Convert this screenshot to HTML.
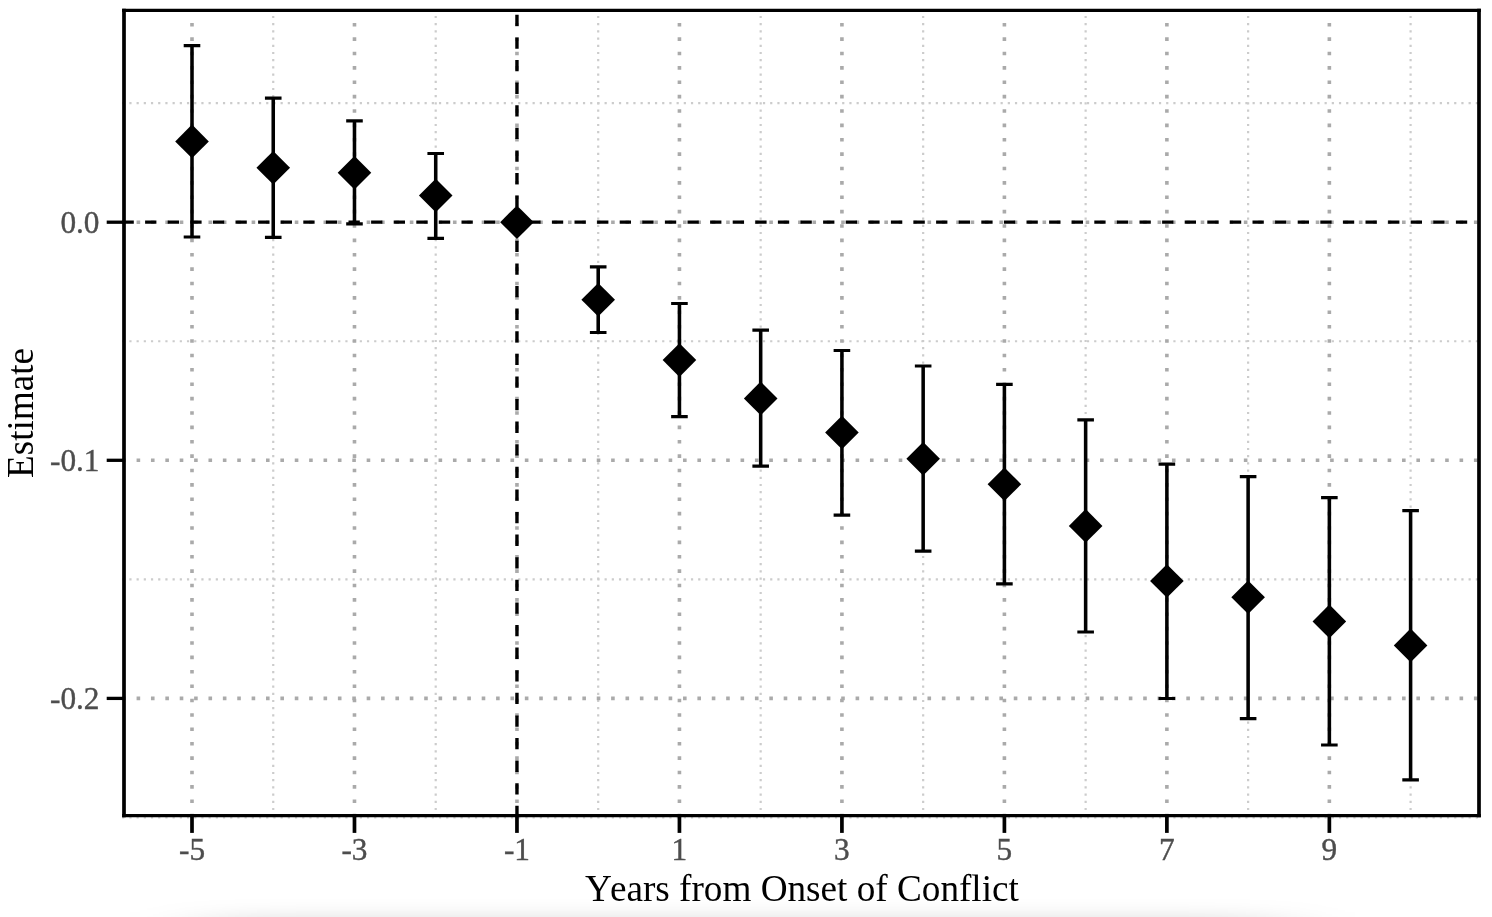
<!DOCTYPE html>
<html><head><meta charset="utf-8"><style>
html,body{margin:0;padding:0;background:#fff;}
body{width:1492px;height:917px;overflow:hidden;}
svg{display:block;font-family:"Liberation Serif",serif;}
text{opacity:0.999;}
</style></head><body>
<svg width="1492" height="917" viewBox="0 0 1492 917">
<rect width="1492" height="917" fill="#fff"/>
<filter id="bl" x="-30%" y="-300%" width="160%" height="700%"><feGaussianBlur stdDeviation="45 10"/></filter>
<rect x="205" y="919" width="1075" height="30" fill="#000" fill-opacity="0.15" filter="url(#bl)"/>
<g>
<line x1="273.24" y1="817.30" x2="273.24" y2="10.3" stroke="#cccccc" stroke-width="2.2" stroke-dasharray="2.2 5.000"/>
<line x1="435.72" y1="817.30" x2="435.72" y2="10.3" stroke="#cccccc" stroke-width="2.2" stroke-dasharray="2.2 5.000"/>
<line x1="598.20" y1="817.30" x2="598.20" y2="10.3" stroke="#cccccc" stroke-width="2.2" stroke-dasharray="2.2 5.000"/>
<line x1="760.68" y1="817.30" x2="760.68" y2="10.3" stroke="#cccccc" stroke-width="2.2" stroke-dasharray="2.2 5.000"/>
<line x1="923.16" y1="817.30" x2="923.16" y2="10.3" stroke="#cccccc" stroke-width="2.2" stroke-dasharray="2.2 5.000"/>
<line x1="1085.64" y1="817.30" x2="1085.64" y2="10.3" stroke="#cccccc" stroke-width="2.2" stroke-dasharray="2.2 5.000"/>
<line x1="1248.12" y1="817.30" x2="1248.12" y2="10.3" stroke="#cccccc" stroke-width="2.2" stroke-dasharray="2.2 5.000"/>
<line x1="1410.60" y1="817.30" x2="1410.60" y2="10.3" stroke="#cccccc" stroke-width="2.2" stroke-dasharray="2.2 5.000"/>
<line x1="122.15" y1="103.15" x2="1479.0" y2="103.15" stroke="#cccccc" stroke-width="2.2" stroke-dasharray="2.2 5.000"/>
<line x1="122.15" y1="341.25" x2="1479.0" y2="341.25" stroke="#cccccc" stroke-width="2.2" stroke-dasharray="2.2 5.000"/>
<line x1="122.15" y1="579.35" x2="1479.0" y2="579.35" stroke="#cccccc" stroke-width="2.2" stroke-dasharray="2.2 5.000"/>
<line x1="122.15" y1="817.45" x2="1479.0" y2="817.45" stroke="#cccccc" stroke-width="2.2" stroke-dasharray="2.2 5.000"/>
<line x1="192.00" y1="817.40" x2="192.00" y2="10.3" stroke="#aaaaaa" stroke-width="3.6" stroke-dasharray="3.6 10.780"/>
<line x1="354.48" y1="817.40" x2="354.48" y2="10.3" stroke="#aaaaaa" stroke-width="3.6" stroke-dasharray="3.6 10.780"/>
<line x1="516.96" y1="817.40" x2="516.96" y2="10.3" stroke="#aaaaaa" stroke-width="3.6" stroke-dasharray="3.6 10.780"/>
<line x1="679.44" y1="817.40" x2="679.44" y2="10.3" stroke="#aaaaaa" stroke-width="3.6" stroke-dasharray="3.6 10.780"/>
<line x1="841.92" y1="817.40" x2="841.92" y2="10.3" stroke="#aaaaaa" stroke-width="3.6" stroke-dasharray="3.6 10.780"/>
<line x1="1004.40" y1="817.40" x2="1004.40" y2="10.3" stroke="#aaaaaa" stroke-width="3.6" stroke-dasharray="3.6 10.780"/>
<line x1="1166.88" y1="817.40" x2="1166.88" y2="10.3" stroke="#aaaaaa" stroke-width="3.6" stroke-dasharray="3.6 10.780"/>
<line x1="1329.36" y1="817.40" x2="1329.36" y2="10.3" stroke="#aaaaaa" stroke-width="3.6" stroke-dasharray="3.6 10.780"/>
<line x1="122.20" y1="222.20" x2="1479.0" y2="222.20" stroke="#aaaaaa" stroke-width="3.6" stroke-dasharray="3.6 10.780"/>
<line x1="122.20" y1="460.30" x2="1479.0" y2="460.30" stroke="#aaaaaa" stroke-width="3.6" stroke-dasharray="3.6 10.780"/>
<line x1="122.20" y1="698.40" x2="1479.0" y2="698.40" stroke="#aaaaaa" stroke-width="3.6" stroke-dasharray="3.6 10.780"/>
<line x1="122.5" y1="222.2" x2="1479.0" y2="222.2" stroke="#000" stroke-width="3.2" stroke-dasharray="11.3 11.3"/>
<line x1="516.96" y1="817.1" x2="516.96" y2="10.3" stroke="#000" stroke-width="3.4" stroke-dasharray="11.3 11.3"/>
<path d="M192.00 45.60V237.00" stroke="#000" stroke-width="3.55" fill="none"/>
<path d="M183.70 45.60H200.30M183.70 237.00H200.30" stroke="#000" stroke-width="3.2" fill="none"/>
<path d="M273.24 98.10V237.30" stroke="#000" stroke-width="3.55" fill="none"/>
<path d="M264.94 98.10H281.54M264.94 237.30H281.54" stroke="#000" stroke-width="3.2" fill="none"/>
<path d="M354.48 120.90V223.80" stroke="#000" stroke-width="3.55" fill="none"/>
<path d="M346.18 120.90H362.78M346.18 223.80H362.78" stroke="#000" stroke-width="3.2" fill="none"/>
<path d="M435.72 153.50V238.40" stroke="#000" stroke-width="3.55" fill="none"/>
<path d="M427.42 153.50H444.02M427.42 238.40H444.02" stroke="#000" stroke-width="3.2" fill="none"/>
<path d="M598.20 266.90V332.50" stroke="#000" stroke-width="3.55" fill="none"/>
<path d="M589.90 266.90H606.50M589.90 332.50H606.50" stroke="#000" stroke-width="3.2" fill="none"/>
<path d="M679.44 303.50V416.60" stroke="#000" stroke-width="3.55" fill="none"/>
<path d="M671.14 303.50H687.74M671.14 416.60H687.74" stroke="#000" stroke-width="3.2" fill="none"/>
<path d="M760.68 330.10V466.20" stroke="#000" stroke-width="3.55" fill="none"/>
<path d="M752.38 330.10H768.98M752.38 466.20H768.98" stroke="#000" stroke-width="3.2" fill="none"/>
<path d="M841.92 350.50V515.20" stroke="#000" stroke-width="3.55" fill="none"/>
<path d="M833.62 350.50H850.22M833.62 515.20H850.22" stroke="#000" stroke-width="3.2" fill="none"/>
<path d="M923.16 366.00V551.10" stroke="#000" stroke-width="3.55" fill="none"/>
<path d="M914.86 366.00H931.46M914.86 551.10H931.46" stroke="#000" stroke-width="3.2" fill="none"/>
<path d="M1004.40 384.30V583.90" stroke="#000" stroke-width="3.55" fill="none"/>
<path d="M996.10 384.30H1012.70M996.10 583.90H1012.70" stroke="#000" stroke-width="3.2" fill="none"/>
<path d="M1085.64 419.80V632.00" stroke="#000" stroke-width="3.55" fill="none"/>
<path d="M1077.34 419.80H1093.94M1077.34 632.00H1093.94" stroke="#000" stroke-width="3.2" fill="none"/>
<path d="M1166.88 464.10V698.50" stroke="#000" stroke-width="3.55" fill="none"/>
<path d="M1158.58 464.10H1175.18M1158.58 698.50H1175.18" stroke="#000" stroke-width="3.2" fill="none"/>
<path d="M1248.12 476.70V718.70" stroke="#000" stroke-width="3.55" fill="none"/>
<path d="M1239.82 476.70H1256.42M1239.82 718.70H1256.42" stroke="#000" stroke-width="3.2" fill="none"/>
<path d="M1329.36 497.70V745.00" stroke="#000" stroke-width="3.55" fill="none"/>
<path d="M1321.06 497.70H1337.66M1321.06 745.00H1337.66" stroke="#000" stroke-width="3.2" fill="none"/>
<path d="M1410.60 510.70V779.80" stroke="#000" stroke-width="3.55" fill="none"/>
<path d="M1402.30 510.70H1418.90M1402.30 779.80H1418.90" stroke="#000" stroke-width="3.2" fill="none"/>
<path d="M175.20 141.40L192.00 124.60L208.80 141.40L192.00 158.20Z" fill="#000"/>
<path d="M256.44 167.70L273.24 150.90L290.04 167.70L273.24 184.50Z" fill="#000"/>
<path d="M337.68 172.70L354.48 155.90L371.28 172.70L354.48 189.50Z" fill="#000"/>
<path d="M418.92 195.50L435.72 178.70L452.52 195.50L435.72 212.30Z" fill="#000"/>
<path d="M500.16 222.20L516.96 205.40L533.76 222.20L516.96 239.00Z" fill="#000"/>
<path d="M581.40 299.70L598.20 282.90L615.00 299.70L598.20 316.50Z" fill="#000"/>
<path d="M662.64 360.10L679.44 343.30L696.24 360.10L679.44 376.90Z" fill="#000"/>
<path d="M743.88 398.40L760.68 381.60L777.48 398.40L760.68 415.20Z" fill="#000"/>
<path d="M825.12 432.50L841.92 415.70L858.72 432.50L841.92 449.30Z" fill="#000"/>
<path d="M906.36 458.70L923.16 441.90L939.96 458.70L923.16 475.50Z" fill="#000"/>
<path d="M987.60 484.30L1004.40 467.50L1021.20 484.30L1004.40 501.10Z" fill="#000"/>
<path d="M1068.84 525.90L1085.64 509.10L1102.44 525.90L1085.64 542.70Z" fill="#000"/>
<path d="M1150.08 581.00L1166.88 564.20L1183.68 581.00L1166.88 597.80Z" fill="#000"/>
<path d="M1231.32 597.30L1248.12 580.50L1264.92 597.30L1248.12 614.10Z" fill="#000"/>
<path d="M1312.56 621.40L1329.36 604.60L1346.16 621.40L1329.36 638.20Z" fill="#000"/>
<path d="M1393.80 645.40L1410.60 628.60L1427.40 645.40L1410.60 662.20Z" fill="#000"/>
</g>
<path d="M122.15 10.3H1480.85M122.15 815.6H1480.85" stroke="#000" stroke-width="3.2" fill="none"/>
<path d="M124.0 8.700000000000001V817.2M1479.0 8.700000000000001V817.2" stroke="#000" stroke-width="3.7" fill="none"/>
<line x1="192.00" y1="815.6" x2="192.00" y2="832.90" stroke="#000" stroke-width="3.7"/>
<line x1="354.48" y1="815.6" x2="354.48" y2="832.90" stroke="#000" stroke-width="3.7"/>
<line x1="516.96" y1="815.6" x2="516.96" y2="832.90" stroke="#000" stroke-width="3.7"/>
<line x1="679.44" y1="815.6" x2="679.44" y2="832.90" stroke="#000" stroke-width="3.7"/>
<line x1="841.92" y1="815.6" x2="841.92" y2="832.90" stroke="#000" stroke-width="3.7"/>
<line x1="1004.40" y1="815.6" x2="1004.40" y2="832.90" stroke="#000" stroke-width="3.7"/>
<line x1="1166.88" y1="815.6" x2="1166.88" y2="832.90" stroke="#000" stroke-width="3.7"/>
<line x1="1329.36" y1="815.6" x2="1329.36" y2="832.90" stroke="#000" stroke-width="3.7"/>
<line x1="124.0" y1="222.20" x2="106.70" y2="222.20" stroke="#000" stroke-width="3.3"/>
<line x1="124.0" y1="460.30" x2="106.70" y2="460.30" stroke="#000" stroke-width="3.3"/>
<line x1="124.0" y1="698.40" x2="106.70" y2="698.40" stroke="#000" stroke-width="3.3"/>
<text x="192.00" y="860" font-size="31.3" text-anchor="middle" fill="#4d4d4d" stroke="#4d4d4d" stroke-width="0.4">-5</text>
<text x="354.48" y="860" font-size="31.3" text-anchor="middle" fill="#4d4d4d" stroke="#4d4d4d" stroke-width="0.4">-3</text>
<text x="516.96" y="860" font-size="31.3" text-anchor="middle" fill="#4d4d4d" stroke="#4d4d4d" stroke-width="0.4">-1</text>
<text x="679.44" y="860" font-size="31.3" text-anchor="middle" fill="#4d4d4d" stroke="#4d4d4d" stroke-width="0.4">1</text>
<text x="841.92" y="860" font-size="31.3" text-anchor="middle" fill="#4d4d4d" stroke="#4d4d4d" stroke-width="0.4">3</text>
<text x="1004.40" y="860" font-size="31.3" text-anchor="middle" fill="#4d4d4d" stroke="#4d4d4d" stroke-width="0.4">5</text>
<text x="1166.88" y="860" font-size="31.3" text-anchor="middle" fill="#4d4d4d" stroke="#4d4d4d" stroke-width="0.4">7</text>
<text x="1329.36" y="860" font-size="31.3" text-anchor="middle" fill="#4d4d4d" stroke="#4d4d4d" stroke-width="0.4">9</text>
<text x="99.5" y="233.00" font-size="31.3" text-anchor="end" fill="#4d4d4d" stroke="#4d4d4d" stroke-width="0.4">0.0</text>
<text x="99.5" y="471.10" font-size="31.3" text-anchor="end" fill="#4d4d4d" stroke="#4d4d4d" stroke-width="0.4">-0.1</text>
<text x="99.5" y="709.20" font-size="31.3" text-anchor="end" fill="#4d4d4d" stroke="#4d4d4d" stroke-width="0.4">-0.2</text>
<text x="584.9" y="900.9" font-size="37.2" fill="#000">Y</text>
<text x="1018.9" y="900.9" font-size="37.2" text-anchor="end" fill="#000">ears from Onset of Conflict</text>
<text transform="translate(33.1 412.95) rotate(-90)" x="0" y="0" font-size="37.2" text-anchor="middle" fill="#000">Estimate</text>
</svg>
</body></html>
